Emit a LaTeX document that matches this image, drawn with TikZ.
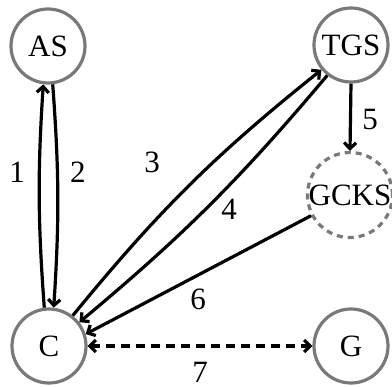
\documentclass[tikz,border=0pt]{standalone}
\usepackage{fontspec}
\setmainfont{Liberation Serif}
\usetikzlibrary{arrows.meta}
\begin{document}
\begin{tikzpicture}[x=1pt,y=-1pt,
  state/.style={circle,draw=gray!95!black,line width=3.2pt,minimum size=74pt,inner sep=0pt,fill=white,
    font=\fontsize{31}{35}\selectfont},
  dstate/.style={state,dash pattern=on 6pt off 5pt},
  arr/.style={line width=3.2pt,-{Straight Barb[length=6pt,width=12pt]}},
  darr/.style={line width=3.2pt,dash pattern=on 9pt off 6pt,{Straight Barb[length=6pt,width=12pt]}-{Straight Barb[length=6pt,width=12pt]}},
  lbl/.style={font=\fontsize{31}{35}\selectfont,inner sep=0pt}]
\useasboundingbox (0,0) rectangle (392,387);
\node[state] (AS) at (48,46) {AS};
\node[state] (TGS) at (351,45) {TGS};
\node[dstate] (GCKS) at (350,195) {GCKS};
\node[state] (C) at (49,346) {C};
\node[state] (G) at (351,346) {G};
\draw[arr] (C.97) to[bend left=4] (AS.263);
\draw[arr] (AS.277) to[bend left=4] (C.83);
\draw[arr] (C.52) to[bend left=6] (TGS.220);
\draw[arr] (TGS.232) to[bend left=5] (C.38);
\draw[arr] (TGS.south) -- (GCKS.north);
\draw[arr] (GCKS.208) -- (C.18);
\draw[darr] (C.east) -- (G.west);
\node[lbl] (l1) at (17,172) {1};
\node[lbl] (l2) at (78,172) {2};
\node[lbl] (l3) at (152,162) {3};
\node[lbl] (l4) at (229,209) {4};
\node[lbl] (l5) at (370,120) {5};
\node[lbl] (l6) at (198,299) {6};
\node[lbl] (l7) at (200,372) {7};
\end{tikzpicture}
\end{document}
